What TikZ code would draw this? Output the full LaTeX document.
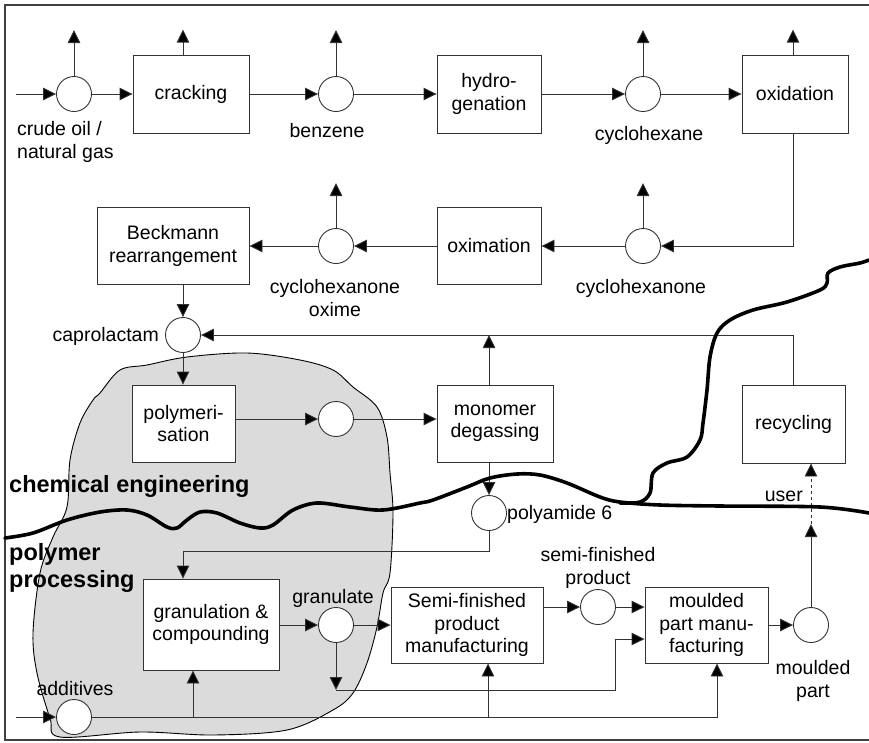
\documentclass[tikz,border=0pt]{standalone}
\usepackage{fontspec}
\setmainfont{Liberation Sans}
\usetikzlibrary{arrows.meta,calc}
\begin{document}
\begin{tikzpicture}[x=1pt,y=-1pt,
  every node/.style={font=\fontsize{19.5}{22.5}\selectfont},
  box/.style={draw=black!80, fill=white, line width=0.9pt, align=center, inner sep=0pt},
  circ/.style={draw=black!80, fill=white, circle, minimum size=35pt, inner sep=0pt, line width=0.9pt},
  lbl/.style={align=center, inner sep=0pt},
  flow/.style={line width=0.9pt, draw=black!80, -{Triangle[length=13pt,width=12.5pt,fill=black]}},
  border/.style={line width=3.6pt, line cap=round, line join=round},
  headline/.style={font=\bfseries\fontsize{23.5}{27}\selectfont, align=left, inner sep=0pt}]
\useasboundingbox (0,0) rectangle (869,742);

% frame (open on the right)
\draw[black!75, line width=2pt] (869,5) -- (5,5) -- (5,740) -- (869,740);

% shaded region of the compounding plant
\draw[fill=black!14, line width=0.9pt] plot[smooth cycle, tension=0.55] coordinates {
  (100,393) (120,370) (147,365) (187,357) (247,353) (300,360) (333,370)
  (353,387) (377,407) (387,437) (390,473) (393,513) (390,573) (383,593)
  (377,627) (367,663) (353,693) (333,710) (287,730) (213,735) (140,732)
  (60,737) (50,718) (37,673) (33,633) (40,573) (53,537) (67,507) (70,460)
  (80,423) (93,400)};

% top row
\node[circ] (c1) at (74,94) {};
\node[box, minimum width=116pt, minimum height=78pt] (crack) at (191,94) {cracking};
\node[circ] (c2) at (336,94) {};
\node[box, minimum width=104pt, minimum height=78pt] (hydro) at (489,94) {hydro-\\genation};
\node[circ] (c3) at (643,94) {};
\node[box, minimum width=106pt, minimum height=78pt] (oxid) at (795,94) {oxidation};

% second row
\node[box, minimum width=152pt, minimum height=77pt] (beck) at (173,246) {Beckmann\\rearrangement};
\node[circ] (c4) at (336,246) {};
\node[box, minimum width=104pt, minimum height=77pt] (oxim) at (489,246) {oximation};
\node[circ] (c5) at (643,246) {};

% caprolactam and polymerisation
\node[circ] (c6) at (183,335) {};
\node[box, minimum width=103pt, minimum height=77pt] (poly) at (183.5,423.5) {polymeri-\\sation};
\node[circ] (c7) at (336,419) {};
\node[box, minimum width=116pt, minimum height=77pt] (mono) at (495,423.5) {monomer\\degassing};
\node[box, minimum width=103pt, minimum height=78pt] (recyc) at (793.5,424) {recycling};
\node[circ] (c8) at (489,513) {};

% processing row
\node[box, minimum width=136pt, minimum height=91pt] (gran) at (211,624.5) {granulation \&\\compounding};
\node[circ] (c9) at (336,625) {};
\node[box, minimum width=152pt, minimum height=76pt] (semi) at (467,625) {Semi-finished\\product\\manufacturing};
\node[circ] (c10) at (598,607) {};
\node[box, minimum width=123pt, minimum height=76pt] (mould) at (706.5,625) {moulded\\part manu-\\facturing};
\node[circ] (c11) at (811,625) {};
\node[circ] (c12) at (74,717) {};

% labels
\node[lbl, anchor=west, align=left] (l1) at (17,142) {crude oil /\\natural gas};
\node[lbl] (l2) at (327,131) {benzene};
\node[lbl] (l3) at (649,135) {cyclohexane};
\node[lbl] (l4) at (335,298) {cyclohexanone\\oxime};
\node[lbl] (l5) at (641,288) {cyclohexanone};
\node[lbl, anchor=east] (l6) at (159,336) {caprolactam};
\node[lbl, anchor=west] (l7) at (507,514) {polyamide 6};
\node[lbl] (l8) at (333,598) {granulate};
\node[lbl] (l9) at (598,568) {semi-finished\\product};
\node[lbl] (l10) at (813,681) {moulded\\part};
\node[lbl] (l11) at (75,689) {additives};
\node[lbl, anchor=east] (l12) at (803,496) {user};
\node[headline, anchor=west] (h1) at (9,486) {chemical engineering};
\node[headline, anchor=west] (h2) at (9,568) {polymer\\processing};

% helper points
\coordinate (toprow) at (0,30);
\coordinate (midrow) at (0,183);
\coordinate (in1) at (16,94);
\coordinate (in2) at (16,717);
\coordinate (pa) at (489,551);
\coordinate (gd) at (336,690);
\coordinate (gk) at (615,639);
\coordinate (b1) at (193,717);
\coordinate (b2) at (488,717);
\coordinate (ut) at (811,524);

% top row flows
\draw[flow] (in1) -- (c1);
\draw[flow] (c1) -- (crack);
\draw[flow] (crack) -- (c2);
\draw[flow] (c2) -- (hydro);
\draw[flow] (hydro) -- (c3);
\draw[flow] (c3) -- (oxid);
\draw[flow] (c1.north) -- (c1.north |- toprow);
\draw[flow] ([xshift=-8pt]crack.north) -- ++(0,-25);
\draw[flow] (c2.north) -- (c2.north |- toprow);
\draw[flow] (c3.north) -- (c3.north |- toprow);
\draw[flow] ([xshift=-2pt]oxid.north) -- ++(0,-25);

% second row flows
\draw[flow] ([xshift=-2pt]oxid.south) |- (c5);
\draw[flow] (c5) -- (oxim);
\draw[flow] (oxim) -- (c4);
\draw[flow] (c4) -- (beck);
\draw[flow] (c4.north) -- (c4.north |- midrow);
\draw[flow] (c5.north) -- (c5.north |- midrow);
\draw[flow] (beck.south -| c6) -- (c6);

% caprolactam loop and polymerisation
\draw[flow] ([xshift=-0.5pt]recyc.north) |- (c6);
\draw[flow] (c8 |- mono.north) -- (c8 |- c6);
\draw[flow] (c6) -- (c6 |- poly.north);
\draw[flow] (poly.east |- c7) -- (c7);
\draw[flow] (c7) -- (c7 -| mono.west);
\draw[flow] (c8 |- mono.south) -- (c8);
\draw[flow] (c8) -- (pa) -| ([xshift=-28pt]gran.north);

% processing flows
\draw[flow] (gran.east |- c9) -- (c9);
\draw[flow] (c9) -- (c9 -| semi.west);
\draw[flow] (semi.east |- c10) -- (c10);
\draw[flow] (c10) -- (c10 -| mould.west);
\draw[flow] (mould.east |- c11) -- (c11);
\draw[flow] (c9) -- (gd);
\draw[flow] (gd) -| (gk) -- (gk -| mould.west);
\draw[flow] (in2) -- (c12);
\draw[flow] (c12) -| ([xshift=10.5pt]mould.south);
\draw[flow] (b1) -- (b1 |- gran.south);
\draw[flow] (b2) -- (b2 |- semi.south);
\draw[flow] (c11) -- (ut);
\draw[flow, dashed] (ut) -- (ut |- recyc.south);

% boundaries between the fields
\draw[border] plot[smooth, tension=0.55] coordinates {
  (5,538) (33,533) (67,520) (100,512) (127,510) (147,515) (167,527) (177,528)
  (187,520) (200,512) (217,513) (240,523) (260,528) (273,525) (293,510)
  (317,503) (350,507) (383,510) (420,503) (433,500) (467,487) (490,478)
  (517,474) (540,475) (567,483) (600,497) (620,502) (660,505) (720,506)
  (820,507) (869,513)};
\draw[border] plot[smooth, tension=0.55] coordinates {
  (620,503) (640,502) (650,493) (653,473) (667,463) (687,457) (700,440)
  (703,423) (707,390) (710,357) (717,333) (730,320) (753,310) (787,302)
  (820,290) (827,283) (828,273) (840,267) (860,263) (869,260)};
\end{tikzpicture}
\end{document}
